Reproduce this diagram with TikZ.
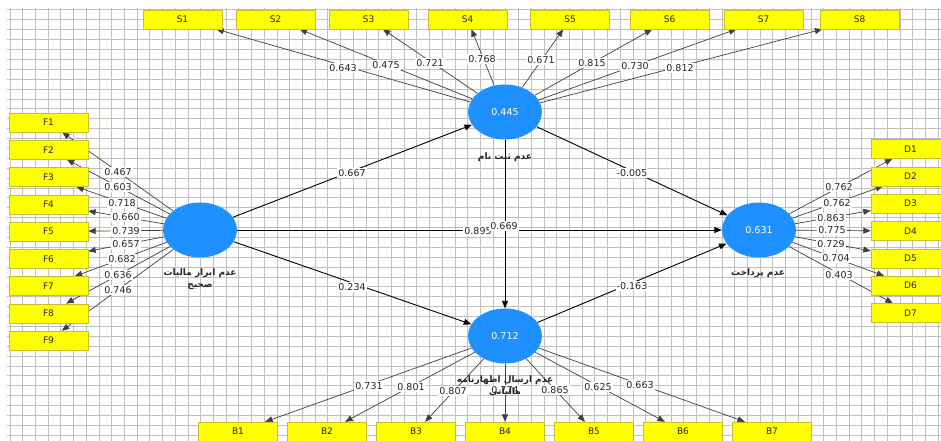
\documentclass[tikz,border=0pt]{standalone}
\usepackage{fontspec}
\setmainfont{DejaVu Sans}
\newfontfamily\farsi[Script=Arabic]{DejaVu Sans}
\TeXXeTstate=1
\usetikzlibrary{shapes.geometric,arrows.meta}
\pgfdeclarelayer{grid}
\pgfdeclarelayer{edges}
\pgfsetlayers{grid,edges,main}
\definecolor{lvblue}{RGB}{30,144,255}
\definecolor{mvyellow}{RGB}{255,255,0}
\definecolor{gridgray}{RGB}{192,192,192}
\begin{document}
\begin{tikzpicture}[x=1pt,y=-1pt,font=\fontsize{9.5}{11}\selectfont, line join=round, line cap=round, >={Triangle[length=7.5pt,width=6pt]}]
	\tikzset{lv/.style={ellipse,fill=lvblue,text=white,minimum width=74pt,minimum height=55pt,inner sep=0pt},
		mv/.style={rectangle,fill=mvyellow,draw=yellow!75!black,minimum width=79pt,minimum height=19pt,inner sep=0pt,font=\fontsize{9}{10}\selectfont,text=black!85},
		ld/.style={fill=white,inner sep=1pt,text=black!85},
		ln/.style={->,draw=black!75,line width=0.7pt},
		pth/.style={->,draw=black,line width=0.9pt},
		fa/.style={font=\farsi\bfseries\fontsize{9}{12}\selectfont,align=center,text=black!85}}
	\useasboundingbox (0,0) rectangle (941,441);
	\clip (0,0) rectangle (941,441);
	% grid
	\begin{pgfonlayer}{grid}
		\foreach \k in {0,...,73}
		\draw[gridgray,line width=1pt] ({10+12.715*\k},8) -- ({10+12.715*\k},441);
		\foreach \k in {0,...,43}
		\draw[gridgray,line width=1pt] (7,{10+9.89*\k}) -- (941,{10+9.89*\k});
	\end{pgfonlayer}
	% latent variables
	\node[lv] (reg) at (505,112) {0.445};
	\node[lv] (tax) at (200,230) {};
	\node[lv] (pay) at (759,230) {0.631};
	\node[lv] (ret) at (505,336) {0.712};
	% indicators
	\foreach \i/\x in {1/182.5,2/275.5,3/368.5,4/467.5,5/570,6/669.5,7/763.5,8/859.5}
	\node[mv] (S\i) at (\x,19.5) {S\i};
	\foreach \i in {1,...,9} \node[mv] (F\i) at (48.5,{95.25+27.25*\i}) {F\i};
	\foreach \i in {1,...,7} \node[mv] (D\i) at (910.5,{121.67+27.33*\i}) {D\i};
	\foreach \i in {1,...,7} \node[mv] (B\i) at ({149+89*\i},431.5) {B\i};
	% arrows
	\begin{pgfonlayer}{edges}
		\foreach \i in {1,...,8} \draw[ln] (reg) -- (S\i);
		\foreach \i in {1,...,9} \draw[ln] (tax) -- (F\i);
		\foreach \i in {1,...,7} \draw[ln] (pay) -- (D\i);
		\foreach \i in {1,...,7} \draw[ln] (ret) -- (B\i);
		\draw[pth] (tax) -- (reg);
		\draw[pth] (tax) -- (pay);
		\draw[pth] (tax) -- (ret);
		\draw[pth] (reg) -- (pay);
		\draw[pth] (reg) -- (ret);
		\draw[pth] (ret) -- (pay);
	\end{pgfonlayer}
	% loadings
	\foreach \i/\v/\x/\y in {1/0.643/343/68,2/0.475/386/65,3/0.721/430/63,4/0.768/482/59,
		5/0.671/541/60,6/0.815/592/63,7/0.730/635/66,8/0.812/680/68}
	\node[ld] (s\i) at (\x,\y) {\v};
	\foreach \i/\v/\x/\y in {1/0.467/118/172,2/0.603/118/187,3/0.718/122/203,4/0.660/126/217,
		5/0.739/126/231,6/0.657/126/244,7/0.682/122/259,8/0.636/118/275,9/0.746/118/290}
	\node[ld] (f\i) at (\x,\y) {\v};
	\foreach \i/\v/\x/\y in {1/0.762/839/187,2/0.762/837/203,3/0.863/831/218,4/0.775/832/230,
		5/0.729/831/244,6/0.704/836/258,7/0.403/839/275}
	\node[ld] (d\i) at (\x,\y) {\v};
	\foreach \i/\v/\x/\y in {1/0.731/369/386,2/0.801/411/387,3/0.807/453/391,4/0.774/505/390,
		5/0.865/555/390,6/0.625/598/387,7/0.663/640/385}
	\node[ld] (b\i) at (\x,\y) {\v};
	% path coefficients
	\node[ld] (c1) at (352,173) {0.667};
	\node[ld] (c2) at (352,287) {0.234};
	\node[ld] (c3) at (632,173) {-0.005};
	\node[ld] (c4) at (632,286) {-0.163};
	\node[ld] (c5) at (478,231) {0.895};
	\node[ld] (c6) at (504,226) {0.669};
	% construct names
	\node[fa] (reg-t) at (505,157) {\beginR عدم ثبت نام\endR};
	\node[fa] (tax-t) at (200,279) {\beginR عدم ابراز مالیات\endR\\\beginR صحیح\endR};
	\node[fa] (pay-t) at (758,273) {\beginR عدم پرداخت\endR};
	\node[fa] (ret-t) at (505,386) {\beginR عدم ارسال اظهارنامه\endR\\\beginR مالیاتی\endR};
\end{tikzpicture}
\end{document}
